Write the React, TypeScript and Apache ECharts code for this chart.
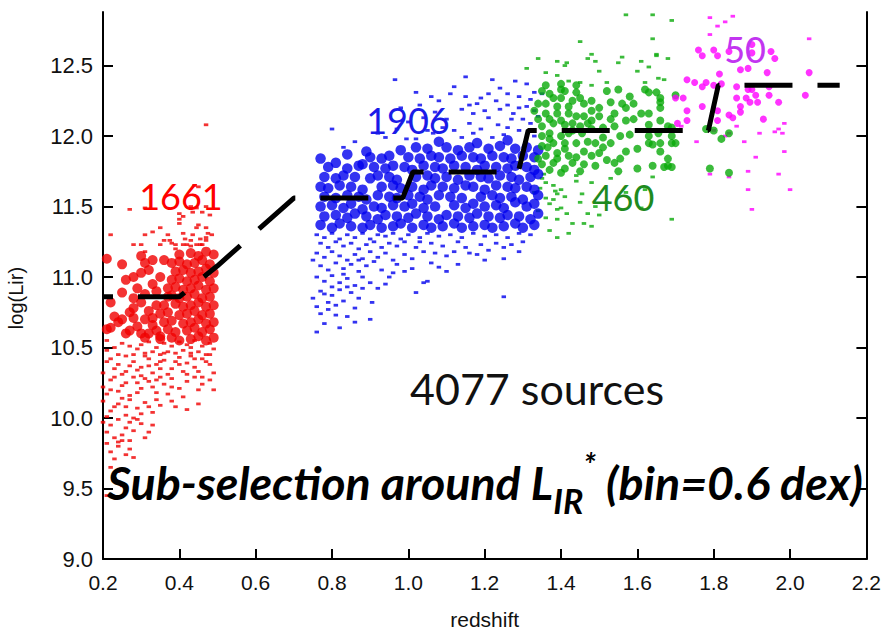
import React, { useEffect, useRef } from "react";
import * as echarts from "echarts";

const xTicks = [0.2, 0.4, 0.6, 0.8, 1.0, 1.2, 1.4, 1.6, 1.8, 2.0, 2.2];
const yTicks = [9.0, 9.5, 10.0, 10.5, 11.0, 11.5, 12.0, 12.5];

// dashed L_IR* track
const stepX = [0.2, 0.4, 0.5, 0.7, 0.985, 1.012, 1.288, 1.314, 1.786, 1.812, 2.13];
const stepY = [10.86, 10.86, 11.08, 11.56, 11.56, 11.745, 11.745, 12.04, 12.04, 12.36, 12.36];

// red sample (z < 0.5): selected (big) and others (small), flat [x, y, ...]
const redBig = [
  0.21,11.13, 0.25,11.09, 0.30,11.15, 0.31,11.10, 0.33,11.12, 0.36,11.12, 0.28,11.00, 0.26,10.98,
  0.25,10.89, 0.22,10.82, 0.28,10.85, 0.30,11.03, 0.32,11.05, 0.22,10.64, 0.24,10.68, 0.25,10.70,
  0.26,10.60, 0.21,10.63, 0.28,10.78, 0.28,10.71, 0.30,10.60, 0.32,10.60, 0.35,10.58, 0.29,10.92,
  0.31,10.88, 0.33,10.95, 0.27,10.75, 0.31,10.70, 0.34,10.80, 0.33,10.66, 0.23,10.72, 0.29,10.65,
  0.30,10.82, 0.32,10.76, 0.34,10.90, 0.35,11.00, 0.27,10.62, 0.31,10.57, 0.33,10.71,
  0.35,10.56, 0.38,10.57, 0.40,10.55, 0.43,10.56, 0.45,10.58, 0.47,10.55, 0.49,10.57,
  0.34,10.62, 0.37,10.63, 0.39,10.61, 0.42,10.62, 0.44,10.64, 0.46,10.61, 0.48,10.63,
  0.36,10.68, 0.38,10.69, 0.41,10.67, 0.43,10.68, 0.45,10.70, 0.47,10.67, 0.49,10.68,
  0.35,10.74, 0.37,10.75, 0.40,10.73, 0.42,10.74, 0.44,10.76, 0.46,10.73, 0.48,10.74,
  0.36,10.80, 0.39,10.81, 0.41,10.79, 0.43,10.80, 0.45,10.82, 0.47,10.79, 0.49,10.80,
  0.37,10.86, 0.38,10.87, 0.40,10.85, 0.42,10.86, 0.44,10.88, 0.46,10.85, 0.48,10.86,
  0.37,10.92, 0.39,10.93, 0.41,10.91, 0.43,10.92, 0.45,10.94, 0.47,10.91, 0.49,10.92,
  0.38,10.98, 0.40,10.99, 0.42,10.97, 0.44,10.98, 0.46,11.00, 0.48,10.97,
  0.39,11.04, 0.41,11.05, 0.43,11.03, 0.45,11.04, 0.47,11.06, 0.49,11.03,
  0.38,11.10, 0.40,11.11, 0.42,11.09, 0.44,11.10, 0.46,11.12, 0.48,11.09,
  0.40,11.16, 0.43,11.17, 0.45,11.15, 0.47,11.18, 0.49,11.16,
];
const redSmall = [
  0.47,12.08, 0.27,11.48, 0.22,11.30, 0.31,11.30, 0.33,11.32, 0.35,11.35, 0.28,11.23, 0.30,11.23,
  0.31,11.18, 0.35,11.23, 0.36,11.26, 0.37,11.30, 0.375,11.26, 0.40,11.45, 0.40,11.41, 0.40,11.38,
  0.41,11.43, 0.41,11.31, 0.415,11.27, 0.42,11.23, 0.43,11.26, 0.435,11.30, 0.445,11.35, 0.45,11.37,
  0.44,11.65, 0.45,11.64, 0.445,11.49, 0.46,11.46, 0.48,11.44, 0.47,11.35, 0.475,11.31, 0.485,11.30,
  0.47,11.28, 0.455,11.27, 0.47,11.26, 0.445,11.23, 0.455,11.23, 0.46,11.23, 0.43,11.50, 0.47,11.50,
  0.31,11.49, 0.435,11.46, 0.43,11.22, 0.39,11.23, 0.41,11.23, 0.39,11.20, 0.38,11.24,
  0.30,10.52, 0.32,10.54, 0.34,10.50, 0.36,10.53, 0.38,10.51, 0.40,10.54, 0.42,10.52, 0.44,10.55,
  0.46,10.51, 0.48,10.53, 0.49,10.49, 0.45,10.47, 0.43,10.46, 0.41,10.48, 0.39,10.46, 0.37,10.47,
  0.35,10.45, 0.33,10.47, 0.31,10.46, 0.29,10.49, 0.27,10.51, 0.25,10.53, 0.23,10.50, 0.21,10.55,
  0.22,10.42, 0.24,10.38, 0.26,10.44, 0.28,10.40, 0.30,10.36, 0.32,10.42, 0.34,10.38, 0.36,10.41,
  0.38,10.35, 0.40,10.43, 0.42,10.39, 0.44,10.36, 0.46,10.42, 0.48,10.38, 0.49,10.32, 0.47,10.45,
  0.45,10.33, 0.43,10.44, 0.41,10.33, 0.39,10.40, 0.37,10.31, 0.35,10.35, 0.33,10.32, 0.31,10.44,
  0.29,10.34, 0.27,10.37, 0.25,10.31, 0.23,10.35, 0.21,10.40, 0.20,10.32,
  0.20,10.22, 0.22,10.27, 0.24,10.19, 0.26,10.25, 0.28,10.29, 0.30,10.21, 0.32,10.26, 0.34,10.18,
  0.36,10.24, 0.38,10.28, 0.40,10.21, 0.42,10.26, 0.44,10.29, 0.46,10.24, 0.48,10.27, 0.49,10.20,
  0.27,10.16, 0.23,10.29, 0.31,10.28, 0.35,10.29, 0.29,10.18, 0.25,10.23, 0.21,10.17, 0.33,10.22,
  0.37,10.17, 0.41,10.15,
  0.20,10.12, 0.22,10.05, 0.24,10.10, 0.26,10.02, 0.27,10.13, 0.29,10.07, 0.31,10.11, 0.33,10.04,
  0.35,10.09, 0.38,10.12, 0.42,10.06, 0.45,10.10, 0.21,10.01, 0.25,10.14, 0.28,10.00, 0.30,10.03,
  0.34,10.13, 0.23,10.08,
  0.20,9.97, 0.21,9.90, 0.22,9.95, 0.24,9.99, 0.25,9.88, 0.26,9.93, 0.27,9.97, 0.28,9.91,
  0.30,9.96, 0.31,9.86, 0.33,9.95, 0.23,9.86, 0.29,9.99,
  0.21,9.82, 0.22,9.76, 0.24,9.80, 0.25,9.84, 0.27,9.78, 0.26,9.74, 0.28,9.72, 0.23,9.71, 0.24,9.83,
  0.23,9.57, 0.22,9.65, 0.21,9.45, 0.24,9.62, 0.25,9.52,
  0.43,10.50, 0.47,10.40, 0.44,10.42, 0.40,10.38, 0.36,10.46, 0.32,10.37, 0.28,10.45, 0.24,10.45,
  0.26,10.33, 0.30,10.30, 0.34,10.27, 0.38,10.22, 0.42,10.31, 0.46,10.29, 0.48,10.45, 0.45,10.20,
  0.39,10.08, 0.32,10.08, 0.26,10.08, 0.22,10.20, 0.29,10.25, 0.35,10.40, 0.27,9.84, 0.32,9.90,
  0.21,10.48,
];

// blue sample (0.75 < z < 1.35)
const blueBig = [
  0.77,11.37, 0.80,11.35, 0.82,11.38, 0.85,11.36, 0.88,11.35, 0.90,11.37, 0.93,11.35, 0.96,11.36,
  0.98,11.38, 1.01,11.35, 1.04,11.37, 1.06,11.35, 1.09,11.36, 1.12,11.38, 1.14,11.35, 1.17,11.36,
  1.20,11.37, 1.22,11.35, 1.25,11.36, 1.28,11.38, 1.30,11.35, 1.33,11.37,
  0.78,11.43, 0.81,11.44, 0.84,11.42, 0.86,11.45, 0.89,11.43, 0.92,11.41, 0.94,11.44, 0.97,11.43,
  1.00,11.42, 1.02,11.45, 1.05,11.43, 1.08,11.41, 1.10,11.44, 1.13,11.43, 1.16,11.42, 1.18,11.45,
  1.21,11.43, 1.24,11.42, 1.26,11.44, 1.29,11.43, 1.32,11.41, 1.34,11.45,
  0.77,11.50, 0.80,11.51, 0.83,11.49, 0.85,11.52, 0.91,11.50, 0.93,11.49, 0.96,11.51, 0.99,11.50,
  1.01,11.52, 1.04,11.49, 1.07,11.50, 1.12,11.51, 1.15,11.49, 1.17,11.52, 1.20,11.50, 1.23,11.51,
  1.25,11.49, 1.31,11.50, 1.33,11.52, 0.88,11.48, 1.28,11.53,
  0.78,11.57, 0.81,11.56, 0.84,11.58, 0.87,11.57, 0.89,11.55, 0.92,11.58, 0.95,11.57, 0.97,11.56,
  1.00,11.58, 1.03,11.57, 1.05,11.55, 1.08,11.58, 1.11,11.57, 1.14,11.56, 1.19,11.57, 1.22,11.58,
  1.24,11.56, 1.27,11.57, 1.30,11.55, 1.34,11.58,
  0.77,11.64, 0.79,11.63, 0.82,11.65, 0.85,11.64, 0.88,11.62, 0.93,11.64, 0.96,11.65, 0.98,11.63,
  1.01,11.64, 1.04,11.62, 1.06,11.65, 1.09,11.64, 1.12,11.63, 1.15,11.65, 1.17,11.64, 1.20,11.62,
  1.23,11.65, 1.26,11.64, 1.28,11.63, 1.31,11.64, 1.33,11.62,
  0.78,11.71, 0.81,11.70, 0.83,11.72, 0.86,11.71, 0.90,11.70, 0.92,11.72, 0.95,11.71, 0.97,11.69,
  1.02,11.71, 1.05,11.72, 1.07,11.70, 1.10,11.71, 1.13,11.69, 1.16,11.72, 1.19,11.71, 1.21,11.70,
  1.24,11.72, 1.27,11.71, 1.29,11.69, 1.32,11.71, 1.34,11.73,
  0.79,11.78, 0.84,11.77, 0.87,11.79, 0.91,11.78, 0.94,11.77, 0.96,11.79, 0.99,11.78, 1.01,11.76,
  1.04,11.79, 1.07,11.78, 1.09,11.77, 1.12,11.79, 1.15,11.78, 1.18,11.76, 1.20,11.79, 1.23,11.78,
  1.26,11.77, 1.28,11.79, 1.31,11.78, 1.33,11.76,
  0.77,11.84, 0.84,11.87, 0.90,11.85, 0.93,11.84, 0.95,11.86, 1.00,11.85, 1.03,11.84, 1.06,11.86,
  1.08,11.85, 1.11,11.84, 1.14,11.86, 1.17,11.85, 1.19,11.84, 1.22,11.86, 1.25,11.85, 1.27,11.84,
  1.30,11.86, 1.33,11.85,
  0.89,11.89, 0.98,11.90, 1.02,11.92, 1.05,11.91, 1.10,11.92, 1.13,11.90, 1.16,11.92, 1.21,11.91,
  1.24,11.93, 1.28,11.91, 1.31,11.92, 1.34,11.90,
  1.08,11.96, 1.18,11.95, 1.26,11.97, 0.81,11.81, 0.88,11.80,
];
const blueSmall = [
  0.76,11.30, 0.78,11.28, 0.80,11.31, 0.82,11.27, 0.84,11.30, 0.86,11.28, 0.88,11.31, 0.90,11.27,
  0.92,11.30, 0.94,11.29, 0.96,11.31, 0.98,11.27, 1.00,11.30, 1.03,11.28, 1.05,11.31, 1.08,11.29,
  1.11,11.30, 1.14,11.28, 1.17,11.31, 1.20,11.29, 1.23,11.30, 1.26,11.28, 1.29,11.31, 1.32,11.30,
  0.77,11.24, 0.79,11.21, 0.81,11.25, 0.83,11.22, 0.85,11.24, 0.87,11.20, 0.89,11.23, 0.91,11.25,
  0.93,11.21, 0.95,11.24, 0.97,11.22, 0.99,11.25, 1.02,11.21, 1.06,11.24, 1.09,11.22, 1.13,11.25,
  1.19,11.23, 1.25,11.21, 1.29,11.18, 1.25,11.13,
  0.76,11.17, 0.78,11.14, 0.80,11.18, 0.82,11.15, 0.84,11.12, 0.86,11.16, 0.88,11.13, 0.90,11.18,
  0.92,11.14, 0.94,11.17, 0.96,11.12, 0.99,11.16, 1.01,11.13, 1.04,11.18, 1.10,11.15, 1.16,11.17,
  0.77,11.08, 0.79,11.05, 0.81,11.10, 0.83,11.06, 0.85,11.09, 0.87,11.04, 0.89,11.08, 0.91,11.11,
  0.93,11.05, 0.96,11.03, 1.01,11.06, 1.08,11.07, 1.10,11.04,
  0.76,11.00, 0.78,10.97, 0.80,11.01, 0.82,10.96, 0.84,10.99, 0.86,10.94, 0.88,11.00, 0.90,10.96,
  0.94,10.95, 1.04,10.96, 1.05,10.97,
  0.77,10.90, 0.78,10.88, 0.80,10.87, 0.82,10.91, 0.83,10.83, 0.85,10.89, 0.87,10.85, 0.905,10.82,
  1.02,10.89, 1.25,10.86,
  0.76,10.79, 0.77,10.74, 0.79,10.77, 0.81,10.80, 0.84,10.72, 0.86,10.78, 0.90,10.70, 0.78,10.67,
  0.76,10.61, 0.82,10.64, 0.75,10.85, 0.75,11.12,
  1.12,11.18, 1.15,11.21, 1.18,11.16, 1.21,11.19, 1.23,11.24, 1.27,11.23, 1.07,11.17, 1.03,11.25,
  0.97,11.09, 0.95,11.00, 0.99,11.04, 0.92,10.92, 0.88,10.92, 0.84,10.93, 0.80,10.93, 0.79,10.82,
  0.81,10.73, 0.86,10.68, 0.83,11.02, 0.87,11.12, 1.06,11.10, 1.13,11.09, 1.20,11.12, 1.30,11.25,
  0.965,12.40, 1.28,12.39, 1.02,12.31, 1.11,12.30, 1.15,12.28, 1.21,12.30, 1.24,12.34, 1.31,12.37,
  1.33,12.31, 1.26,12.30, 1.19,12.27, 1.14,12.19, 1.17,12.16, 1.21,12.13, 1.24,12.19, 1.275,12.16,
  1.31,12.21, 1.27,12.12, 1.16,12.09, 1.19,12.05, 1.235,12.08, 1.12,12.04, 1.14,11.99, 1.065,12.02,
  0.995,11.98, 1.02,11.98, 1.05,12.04, 0.94,11.99, 0.80,12.05, 1.03,12.22, 1.07,12.17, 1.18,12.23,
  1.29,12.20, 1.34,12.14, 1.32,12.09, 1.29,12.04, 1.22,11.99, 1.32,12.26, 1.33,12.00, 1.10,12.12,
  1.00,12.10, 1.04,12.13, 1.08,12.25, 1.12,12.35, 1.16,12.22, 1.20,12.18, 1.23,12.25, 1.26,12.22,
  1.29,12.28, 1.33,12.18, 1.09,12.06, 1.17,12.02, 1.26,12.06, 1.30,12.12, 0.97,12.05, 0.92,12.02,
  0.86,11.96, 0.83,11.92, 1.15,12.42, 1.22,12.40, 0.98,12.20, 1.06,12.28, 1.25,12.01, 1.35,12.30,
];

// green sample (1.35 < z < 1.7)
const greenBig = [
  1.35,12.32, 1.40,12.33, 1.41,12.32, 1.44,12.31, 1.45,12.27, 1.38,12.27, 1.34,12.23, 1.36,12.23,
  1.40,12.27, 1.42,12.21, 1.46,12.23, 1.48,12.25, 1.52,12.32, 1.55,12.33, 1.58,12.28, 1.62,12.33,
  1.63,12.31, 1.65,12.31, 1.66,12.24, 1.70,12.29, 1.53,12.24, 1.56,12.23, 1.57,12.20, 1.59,12.23,
  1.54,12.16, 1.48,12.18, 1.46,12.14, 1.44,12.14, 1.36,12.16, 1.39,12.16, 1.42,12.16, 1.50,12.14,
  1.53,12.12, 1.61,12.16, 1.63,12.16, 1.57,12.11, 1.59,12.12, 1.63,12.08, 1.66,12.11, 1.68,12.07,
  1.69,12.00, 1.655,12.02, 1.66,11.95, 1.69,11.95, 1.63,11.95, 1.64,11.94, 1.60,11.91, 1.57,11.89,
  1.555,11.84, 1.54,11.81, 1.60,11.77, 1.64,11.79, 1.67,11.78, 1.69,11.78, 1.55,11.75, 1.49,11.79,
  1.45,11.75, 1.48,11.86, 1.46,11.89, 1.50,11.88, 1.43,11.81, 1.41,11.77, 1.38,11.81, 1.40,11.74,
  1.35,11.80, 1.34,11.84, 1.36,11.86, 1.39,11.88, 1.41,11.91, 1.44,11.95, 1.47,11.96, 1.49,11.95,
  1.51,11.99, 1.53,11.95, 1.555,12.00, 1.58,12.01, 1.63,12.00, 1.35,12.00, 1.37,12.02, 1.40,12.00,
  1.42,12.02, 1.455,12.02, 1.48,12.05, 1.38,11.95, 1.41,11.95, 1.35,11.93, 1.365,11.92, 1.34,12.12,
  1.38,12.09, 1.41,12.08, 1.43,12.09, 1.35,12.07, 1.48,12.11, 1.51,12.06, 1.54,12.07, 1.33,12.18,
  1.37,12.30, 1.39,12.21, 1.43,12.25, 1.37,12.12, 1.40,12.11, 1.45,12.07, 1.43,12.04, 1.37,11.98,
  1.39,11.84, 1.42,11.86, 1.44,11.85, 1.37,11.76, 1.47,12.09, 1.50,12.20, 1.46,11.80, 1.52,11.83,
  1.51,11.92, 1.36,12.36, 1.40,12.37, 1.44,12.36,
  1.79,11.77, 1.84,11.74, 1.82,11.98, 1.84,12.02, 1.80,12.04, 1.78,12.05, 1.68,11.84, 1.68,11.79,
  1.66,11.89, 1.70,11.95, 1.69,12.06, 1.66,12.20, 1.66,12.27,
];
const greenSmall = [
  1.35,11.70, 1.36,11.67, 1.38,11.65, 1.385,11.61, 1.40,11.62, 1.39,11.59, 1.36,11.56, 1.38,11.55,
  1.41,11.57, 1.37,11.52, 1.39,11.48, 1.40,11.49, 1.45,11.53, 1.455,11.59, 1.44,11.68, 1.44,11.72,
  1.48,11.67, 1.36,11.42, 1.39,11.41, 1.415,11.45, 1.43,11.38, 1.46,11.38, 1.48,11.36, 1.49,11.50,
  1.53,11.70, 1.52,11.53, 1.61,11.49, 1.62,11.62, 1.64,11.71, 1.69,11.41, 1.39,11.28, 1.34,11.47,
  1.33,11.60, 1.345,11.63, 1.355,11.73, 1.37,11.33, 1.42,11.31, 1.50,11.44, 1.57,11.60, 1.47,11.45,
  1.45,12.67, 1.34,12.55, 1.39,12.53, 1.415,12.52, 1.41,12.50, 1.48,12.58, 1.50,12.46, 1.47,12.55,
  1.49,12.53, 1.55,12.52, 1.56,12.56, 1.60,12.46, 1.61,12.53, 1.63,12.49, 1.65,12.58, 1.68,12.55,
  1.39,12.43, 1.42,12.39, 1.45,12.38, 1.48,12.36, 1.52,12.38, 1.62,12.38, 1.655,12.41, 1.67,12.40,
  1.31,12.48, 1.57,12.86, 1.64,12.69, 1.64,12.86, 1.69,12.82, 1.65,12.57, 1.36,12.45,
];

// magenta sample (z > 1.7)
const magentaBig = [
  1.76,12.61, 1.77,12.57, 1.80,12.61, 1.81,12.57, 1.84,12.60, 1.90,12.65, 1.90,12.59, 1.95,12.60,
  1.96,12.55, 1.73,12.40, 1.75,12.38, 1.77,12.35, 1.78,12.38, 1.80,12.36, 1.815,12.44, 1.82,12.37,
  1.87,12.47, 1.89,12.48, 1.94,12.45, 1.86,12.35, 1.90,12.33, 1.91,12.29, 1.945,12.35, 1.945,12.29,
  1.86,12.27, 1.885,12.27, 1.895,12.24, 1.915,12.24, 1.97,12.24, 1.70,12.27, 1.72,12.27, 1.87,12.21,
  1.87,12.17, 1.84,12.15, 1.85,12.13, 1.73,12.18, 1.77,12.21, 1.81,12.18, 1.81,12.11, 1.73,12.11,
  1.705,12.09, 1.93,12.12, 2.05,12.45, 2.04,12.29, 1.89,12.33,
];
const magentaSmall = [
  1.79,12.84, 1.81,12.78, 1.83,12.81, 1.85,12.85, 1.79,12.72, 2.05,12.69, 1.86,12.07, 1.92,12.02,
  1.96,12.03, 1.97,12.05, 1.985,12.09, 1.98,12.02, 1.84,12.02, 1.88,11.96, 1.755,11.96, 1.985,11.89,
  1.91,11.85, 1.89,11.75, 1.97,11.73, 1.84,11.71, 1.79,11.73, 1.89,11.62, 2.00,11.62, 1.90,11.48,
  1.80,12.04, 1.715,12.07, 1.83,12.00,
];

const RED = "#f00000";
const BLUE = "#0000ee";
const GREEN = "#0aaa0a";
const MAGENTA = "#ff00ff";

function pairs(flat: number[]): number[][] {
  const out: number[][] = [];
  for (let i = 0; i + 1 < flat.length; i += 2) out.push([flat[i], flat[i + 1]]);
  return out;
}

const AX = "Liberation Sans";
const ANN = "Lato";

function smallSeries(data: number[], color: string) {
  return {
    type: "scatter",
    data: pairs(data),
    symbol: "rect",
    symbolSize: [4.5, 2.8],
    itemStyle: { color },
    silent: true,
    z: 2,
  };
}
function bigSeries(data: number[], color: string, size: number) {
  return {
    type: "scatter",
    data: pairs(data),
    symbol: "circle",
    symbolSize: size,
    itemStyle: { color },
    silent: true,
    z: 3,
  };
}

function label(text: string, x: number, y: number, color: string, size: number) {
  return {
    type: "text",
    x,
    y,
    z: 20,
    style: {
      text,
      fill: color,
      fontSize: size,
      fontFamily: ANN,
      align: "center",
      verticalAlign: "middle",
      textAlign: "center",
      textVerticalAlign: "middle",
    },
  };
}

export default function App() {
  const ref = useRef<HTMLDivElement>(null);
  useEffect(() => {
    if (!ref.current) return;
    const chart = echarts.init(ref.current, null, { renderer: "svg" });
    const axisLine = { show: true, onZero: false, lineStyle: { color: "#000", width: 2 } };
    const tick = (vals: number[]) => ({
      show: true,
      inside: true,
      length: 10,
      customValues: vals,
      lineStyle: { color: "#000", width: 2 },
    });
    const bi = { fontWeight: "bold", fontStyle: "italic", fontFamily: ANN, fill: "#000" };
    chart.setOption({
      animation: false,
      backgroundColor: "#fff",
      grid: { left: 103, right: 17, top: 12, bottom: 72 },
      xAxis: {
        type: "value",
        min: 0.2,
        max: 2.2,
        interval: 0.2,
        name: "redshift",
        nameLocation: "middle",
        nameGap: 50,
        nameTextStyle: { fontFamily: AX, fontSize: 21, color: "#111" },
        axisLine,
        axisTick: tick(xTicks),
        axisLabel: {
          customValues: xTicks,
          formatter: (v: number) => v.toFixed(1),
          fontFamily: AX,
          fontSize: 21,
          color: "#111",
          margin: 13,
        },
        splitLine: { show: false },
      },
      yAxis: [
        {
          type: "value",
          min: 9.0,
          max: 12.88,
          interval: 0.5,
          axisLine,
          axisTick: tick(yTicks),
          axisLabel: {
            customValues: yTicks,
            formatter: (v: number) => v.toFixed(1),
            fontFamily: AX,
            fontSize: 22,
            color: "#111",
            margin: 10,
          },
          splitLine: { show: false },
        },
        {
          type: "value",
          position: "right",
          min: 9.0,
          max: 12.88,
          interval: 0.5,
          axisLine,
          axisTick: tick(yTicks),
          axisLabel: { show: false },
          splitLine: { show: false },
        },
      ],
      graphic: [
        {
          type: "text",
          x: 16,
          y: 298,
          rotation: Math.PI / 2,
          z: 20,
          style: {
            text: "log(Lir)",
            fill: "#111",
            fontSize: 20,
            fontFamily: AX,
            align: "center",
            verticalAlign: "middle",
            textAlign: "center",
            textVerticalAlign: "middle",
          },
        },
        label("1661", 181, 196, "#ff0000", 36),
        label("1906", 408, 120, "#1a1ae8", 36),
        label("460", 623, 197, "#1e8a1e", 36),
        label("50", 745, 49, "#c235f0", 36),
        label("4077 sources", 537, 388, "#111", 43),
        {
          type: "text",
          x: 107,
          y: 482,
          z: 20,
          style: {
            text: "{m|Sub-selection around L}{s|IR}{p|*}{m| (bin=0.6 dex)}",
            align: "left",
            verticalAlign: "middle",
            textAlign: "left",
            textVerticalAlign: "middle",
            fill: "#000",
            rich: {
              m: { ...bi, fontSize: 46.5, lineHeight: 70 },
              s: { ...bi, fontSize: 34, lineHeight: 34, verticalAlign: "bottom" },
              p: { ...bi, fontSize: 32, lineHeight: 32, verticalAlign: "top" },
            },
          },
        },
      ],
      series: [
        smallSeries(redSmall, RED),
        bigSeries(redBig, RED, 10),
        smallSeries(blueSmall, BLUE),
        bigSeries(blueBig, BLUE, 10.5),
        smallSeries(greenSmall, GREEN),
        bigSeries(greenBig, GREEN, 8),
        smallSeries(magentaSmall, MAGENTA),
        bigSeries(magentaBig, MAGENTA, 7),
        {
          type: "line",
          data: stepX.map((x, i) => [x, stepY[i]]),
          showSymbol: false,
          symbol: "none",
          silent: true,
          z: 10,
          lineStyle: { color: "#000", width: 5, type: [48, 25], dashOffset: 38, cap: "butt" },
        },
      ],
    });
    return () => chart.dispose();
  }, []);
  return (
    <div
      ref={ref}
      style={{ position: "fixed", left: 0, top: 0, width: 884, height: 635, background: "#fff" }}
    />
  );
}
